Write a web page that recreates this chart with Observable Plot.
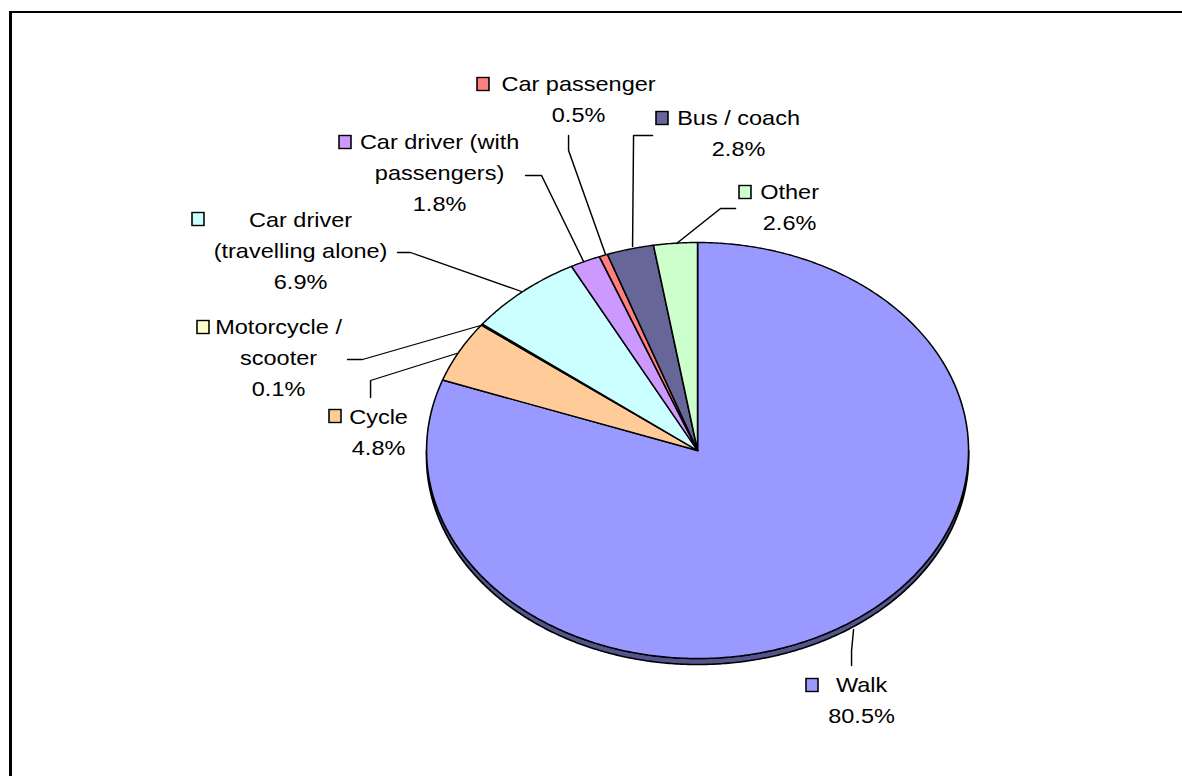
<!DOCTYPE html>
<html>
<head>
<meta charset="utf-8">
<script src="https://cdn.jsdelivr.net/npm/d3@7"></script>
<script src="https://cdn.jsdelivr.net/npm/@observablehq/plot@0.6"></script>
<style>
  html, body { margin: 0; padding: 0; background: #fff; overflow: hidden; }
  #wrap { position: relative; width: 1182px; height: 776px; overflow: hidden; }
  #border { position: absolute; left: 9px; top: 11px; width: 1300px; height: 900px; border-left: 3px solid #000; border-top: 2px solid #000; box-sizing: border-box; }
  #chart { position: absolute; left: 0; top: 0; }
</style>
</head>
<body>
<div id="wrap"><div id="border"></div><div id="chart"></div></div>
<script>
// ---- data ----
const categories = ["Walk", "Cycle", "Motorcycle / scooter", "Car driver (travelling alone)", "Car driver (with passengers)", "Car passenger", "Bus / coach", "Other"];
const shares = [80.5, 4.8, 0.1, 6.9, 1.8, 0.5, 2.8, 2.6];
const labelLines = [["Walk"], ["Cycle"], ["Motorcycle /", "scooter"], ["Car driver", "(travelling alone)"], ["Car driver (with", "passengers)"], ["Car passenger"], ["Bus / coach"], ["Other"]];

// ---- styles ----
const colors = ["#9999FF", "#FFCC99", "#FFFFCC", "#CCFFFF", "#CC99FF", "#FF8080", "#666699", "#CCFFCC"];
const rimColor = "#55558E";

// ---- layout (reference pixel space) ----
const W = 1182, H = 776, stretch = 1.12;
const cx = 697, cy = 450, rx = 271, ry = 208, depth = 6, lineGap = 31;
const labelLayout = [
  {tx: 861, ty: 685, kx: 812, ky: 685, lead: [[851, 665], [851, 650], [853, 629]]},
  {tx: 378, ty: 417, kx: 335, ky: 416, lead: [[370, 397], [370, 380], [456, 353]]},
  {tx: 278, ty: 327, kx: 203, ky: 327, lead: [[347, 359], [362, 359], [480, 325]]},
  {tx: 300, ty: 220, kx: 198, ky: 219, lead: [[397, 252], [410, 252], [521, 291]]},
  {tx: 439, ty: 142, kx: 345, ky: 142, lead: [[525, 175], [541, 175], [583, 261]]},
  {tx: 578, ty: 84,  kx: 483, ky: 84,  lead: [[568, 135], [568, 150], [605, 254]]},
  {tx: 738, ty: 118, kx: 662, ky: 118, lead: [[652, 135], [633, 135], [632, 246]]},
  {tx: 789, ty: 192, kx: 745, ky: 192, lead: [[735, 208], [720, 208], [676, 243]]}
];

// ---- pie geometry from the values ----
const arcs = d3.pie().sort(null).value(d => d)(shares);
const pt = (a, dy = 0) => ({x: cx + rx * Math.sin(a), y: cy - ry * Math.cos(a) + dy});
function arcPoints(a0, a1, dy = 0) {
  const n = Math.max(2, Math.ceil(Math.abs(a1 - a0) / (Math.PI / 360)));
  return d3.range(n + 1).map(i => pt(a0 + (a1 - a0) * i / n, dy));
}
const slices = arcs.map((a, i) => ({
  color: colors[i],
  points: [{x: cx, y: cy}, ...arcPoints(a.startAngle, a.endAngle), {x: cx, y: cy}]
}));
// rim (visible lower half, belongs to Walk)
const rim = [...arcPoints(Math.PI / 2, Math.PI * 3 / 2), ...arcPoints(Math.PI * 3 / 2, Math.PI / 2, depth)];
rim.push(rim[0]);

// text rows and keys
const fmt = d3.format(".1f");
const textRows = [];
categories.forEach((c, i) => {
  const L = labelLayout[i];
  const lines = [...labelLines[i], fmt(shares[i]) + "%"];
  lines.forEach((t, j) => textRows.push({x: L.tx, y: L.ty + j * lineGap, text: t}));
});
const keys = categories.map((c, i) => ({x1: labelLayout[i].kx - 6, x2: labelLayout[i].kx + 6, y1: labelLayout[i].ky - 6.5, y2: labelLayout[i].ky + 6.5, color: colors[i]}));
const leaders = categories.flatMap((c, i) => labelLayout[i].lead.map(([x, y]) => ({x, y, c})));

const plotW = Math.round(W / stretch);
const chart = Plot.plot({
  width: plotW, height: H,
  margin: 0,
  x: {domain: [0, W], range: [0, plotW], axis: null},
  y: {domain: [0, H], range: [0, H], axis: null},
  style: {background: "transparent", fontFamily: "'Liberation Sans', Arial, sans-serif"},
  marks: [
    Plot.line(rim, {x: "x", y: "y", fill: rimColor, stroke: "#000", strokeWidth: 1.6, curve: "linear"}),
    ...slices.map(s => Plot.line(s.points, {x: "x", y: "y", fill: s.color, stroke: "#000", strokeWidth: 1.4, strokeLinejoin: "round"})),
    Plot.line(leaders, {x: "x", y: "y", z: "c", stroke: "#000", strokeWidth: 1.3}),
    Plot.rect(keys, {x1: "x1", x2: "x2", y1: "y1", y2: "y2", fill: "color", stroke: "#000", strokeWidth: 1.4}),
    Plot.text(textRows, {x: "x", y: "y", text: "text", fontSize: 21, fill: "#000", textAnchor: "middle", lineAnchor: "middle"})
  ]
});
chart.setAttribute("width", W);
chart.setAttribute("height", H);
chart.setAttribute("viewBox", `0 0 ${plotW} ${H}`);
chart.setAttribute("preserveAspectRatio", "none");
chart.style.width = W + "px";
chart.style.height = H + "px";
chart.style.maxWidth = "none";
document.getElementById("chart").appendChild(chart);
</script>
</body>
</html>
